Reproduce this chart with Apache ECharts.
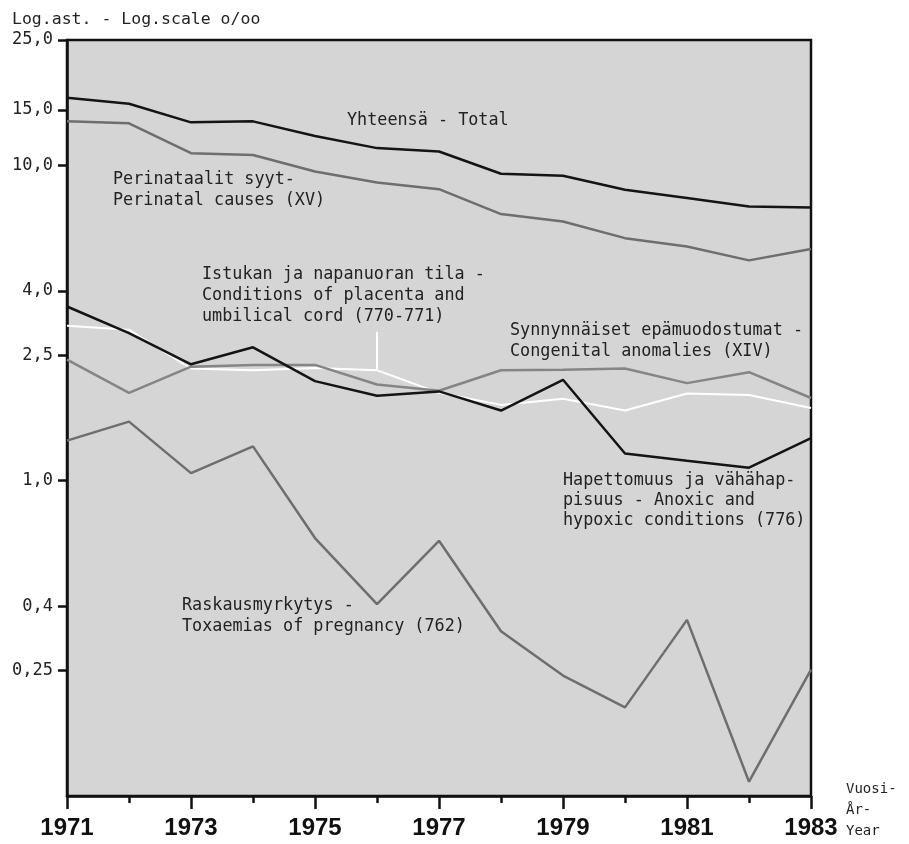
<!DOCTYPE html>
<html>
<head>
<meta charset="utf-8">
<script src="https://cdn.jsdelivr.net/npm/echarts@6/dist/echarts.min.js"></script>
<style>
  html, body { margin: 0; padding: 0; background: #fff; }
  #chart { width: 909px; height: 844px; }
</style>
</head>
<body>
<div id="chart"></div>
<script>
// vuodet - years
var years = ['1971','1972','1973','1974','1975','1976','1977','1978','1979','1980','1981','1982','1983'];

// o/oo, luettu kuvasta (log-asteikko)
var total      = [16.4, 15.7, 13.7, 13.8, 12.4, 11.35, 11.07, 9.41, 9.27, 8.37, 7.88, 7.41, 7.36];
var perinatal  = [13.8, 13.6, 10.94, 10.8, 9.57, 8.83, 8.41, 7.01, 6.64, 5.88, 5.53, 5.0, 5.43];
var placenta   = [3.10, 3.01, 2.27, 2.24, 2.28, 2.24, 1.90, 1.74, 1.82, 1.67, 1.89, 1.87, 1.70];
var congenital = [2.42, 1.90, 2.30, 2.33, 2.33, 2.02, 1.93, 2.24, 2.25, 2.27, 2.04, 2.21, 1.83];
var anoxic     = [3.57, 2.94, 2.34, 2.65, 2.07, 1.86, 1.92, 1.67, 2.09, 1.22, 1.157, 1.10, 1.365];
var toxaemia   = [1.34, 1.54, 1.057, 1.285, 0.658, 0.406, 0.645, 0.333, 0.241, 0.191, 0.362, 0.111, 0.2515];

var yTicks = [0.25, 0.4, 1, 2.5, 4, 10, 15, 25];

var mono = '"DejaVu Sans Mono", monospace';

function fmtY(v) {
  v = Math.round(v * 100) / 100;
  var s = v >= 1 ? v.toFixed(1) : String(v);
  return s.replace('.', ',');
}

function line(name, data, color, width, z) {
  return {
    name: name,
    type: 'line',
    data: data,
    xAxisIndex: 0,
    symbol: 'none',
    z: z,
    lineStyle: { color: color, width: width },
    animation: false
  };
}

var chart = echarts.init(document.getElementById('chart'));

var placentaSeries = line('Istukka', placenta, '#ffffff', 2, 2);
// osoitinviiva tekstistä käyrään
placentaSeries.markLine = {
  silent: true,
  symbol: 'none',
  label: { show: false },
  lineStyle: { color: '#ffffff', width: 2, type: 'solid' },
  data: [[{ coord: ['1976', 2.24] }, { coord: ['1976', 2.97] }]]
};

var option = {
  backgroundColor: '#ffffff',
  grid: {
    left: 67, right: 98, top: 40, bottom: 48,
    show: true,
    backgroundColor: '#d5d5d5',
    borderColor: '#111',
    borderWidth: 2.5
  },
  xAxis: [{
    type: 'category',
    data: years,
    boundaryGap: false,
    axisLine: { lineStyle: { color: '#111', width: 2.5 } },
    axisTick: { interval: 1, length: 13, lineStyle: { color: '#111', width: 2.5 } },
    axisLabel: {
      interval: 1,
      margin: 20,
      color: '#111',
      fontFamily: '"Liberation Sans Narrow", "Arial Narrow", sans-serif',
      fontWeight: 'bold',
      fontSize: 24
    },
    splitLine: { show: false }
  }, {
    type: 'category',
    data: years,
    boundaryGap: false,
    position: 'bottom',
    axisLine: { show: false },
    axisTick: { interval: 0, length: 7, lineStyle: { color: '#111', width: 2.5 } },
    axisLabel: { show: false },
    splitLine: { show: false }
  }],
  yAxis: {
    type: 'log',
    logBase: 10,
    min: 0.1,
    max: 25,
    axisLine: { show: true, lineStyle: { color: '#111', width: 2.5 } },
    axisTick: { show: true, length: 9, customValues: yTicks, lineStyle: { color: '#111', width: 2.5 } },
    axisLabel: {
      customValues: yTicks,
      formatter: fmtY,
      margin: 14,
      color: '#222',
      fontFamily: mono,
      fontSize: 17
    },
    splitLine: { show: false }
  },
  series: [
    placentaSeries,
    line('Synnynnäiset', congenital, '#858585', 2.5, 3),
    line('Raskausmyrkytys', toxaemia, '#6e6e6e', 2.5, 3),
    line('Hapettomuus', anoxic, '#141414', 2.5, 4),
    line('Perinataalit', perinatal, '#6e6e6e', 2.5, 4),
    line('Yhteensä', total, '#141414', 2.5, 5)
  ],
  graphic: [
    { type: 'text', left: 12, top: 11, style: { text: 'Log.ast. - Log.scale o/oo', font: '16.5px ' + mono, fill: '#222' } },
    { type: 'text', left: 347, top: 112, style: { text: 'Yhteensä - Total', font: '16.8px ' + mono, fill: '#222' } },
    { type: 'text', left: 113, top: 169, style: { text: 'Perinataalit syyt-\nPerinatal causes (XV)', font: '16.8px ' + mono, lineHeight: 21, fill: '#222' } },
    { type: 'text', left: 202, top: 264, style: { text: 'Istukan ja napanuoran tila -\nConditions of placenta and\numbilical cord (770-771)', font: '16.8px ' + mono, lineHeight: 21, fill: '#222' } },
    { type: 'text', left: 510, top: 320, style: { text: 'Synnynnäiset epämuodostumat -\nCongenital anomalies (XIV)', font: '16.8px ' + mono, lineHeight: 21, fill: '#222' } },
    { type: 'text', left: 563, top: 471, style: { text: 'Hapettomuus ja vähähap-\npisuus - Anoxic and\nhypoxic conditions (776)', font: '16.8px ' + mono, lineHeight: 20, fill: '#222' } },
    { type: 'text', left: 182, top: 595, style: { text: 'Raskausmyrkytys -\nToxaemias of pregnancy (762)', font: '16.8px ' + mono, lineHeight: 21, fill: '#222' } },
    { type: 'text', left: 846, top: 779, style: { text: 'Vuosi-\nÅr-\nYear', font: '14px ' + mono, lineHeight: 21, fill: '#222' } }
  ]
};

chart.setOption(option);
</script>
</body>
</html>
